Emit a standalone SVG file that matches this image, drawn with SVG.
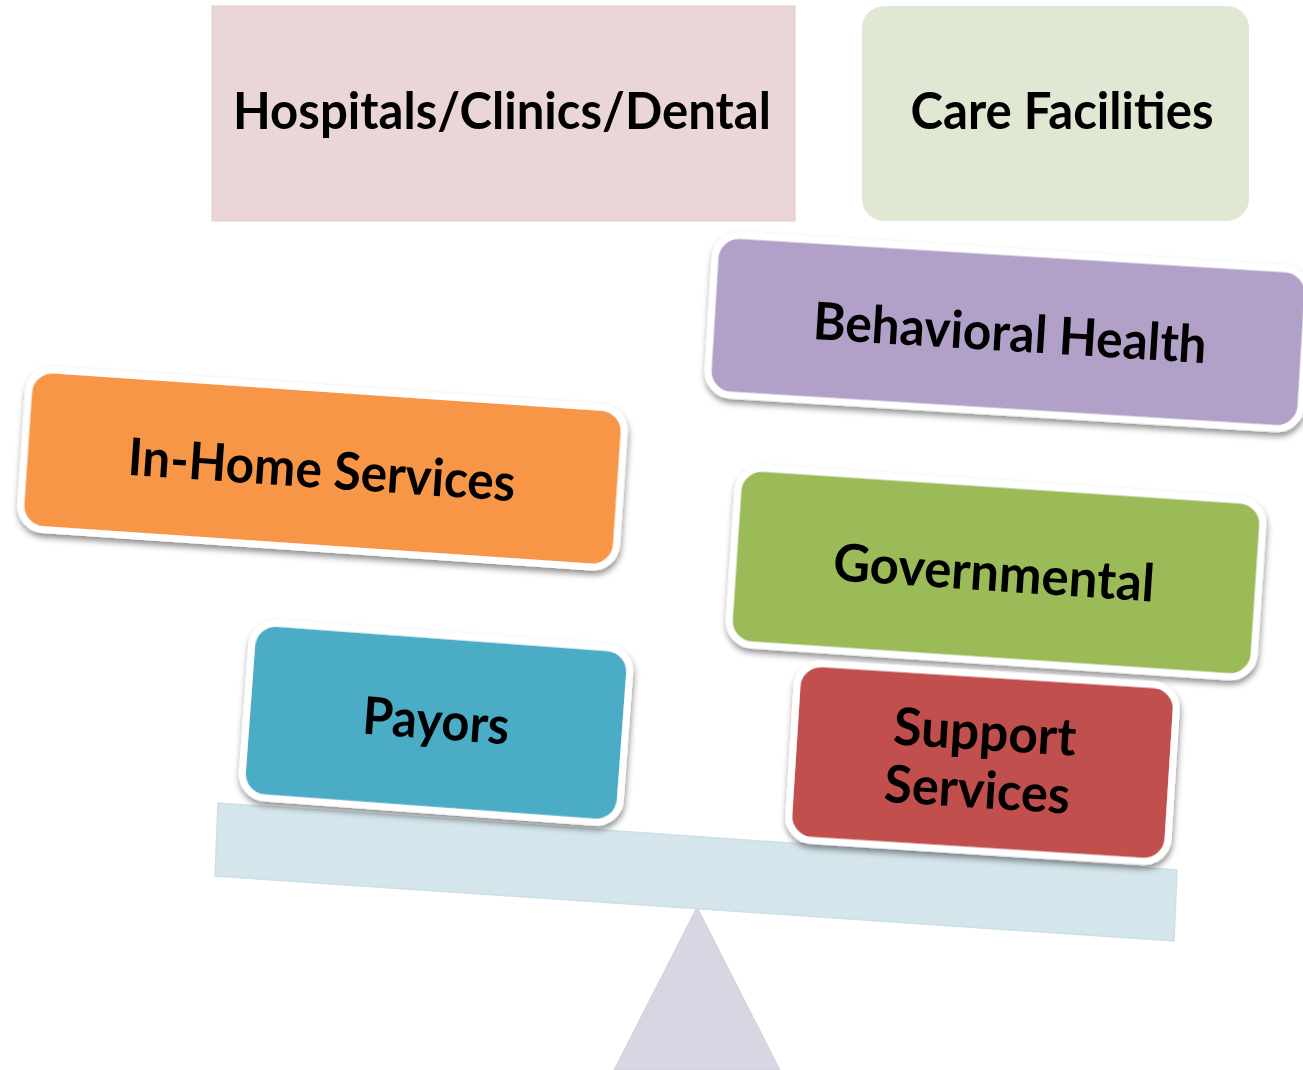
<svg xmlns="http://www.w3.org/2000/svg" width="1303" height="1070" viewBox="0 0 1303 1070">
<defs>
<filter id="sh" x="-10%" y="-20%" width="120%" height="150%">
<feDropShadow dx="1" dy="4" stdDeviation="3" flood-color="#000" flood-opacity="0.45"/>
</filter>
<style>
.t{font-family:Lato,"Open Sans","Liberation Sans",sans-serif;font-weight:bold;font-size:52px;fill:#000;text-anchor:middle}
.card{stroke:#fff;stroke-width:7;filter:url(#sh)}
</style>
</defs>
<rect width="1303" height="1070" fill="#fff"/>
<g id="fulcrum"><polygon points="697,907 614,1070 780,1070" fill="#d9d6e4" stroke="#d3d0e0" stroke-width="1"/></g>
<g id="beam"><polygon points="218,803 1177,870 1174,941 215,876" fill="#d4e5ec" stroke="#cde0e8" stroke-width="1.5"/></g>
<g id="hospitals">
<rect x="212" y="6" width="583" height="215" fill="#ead6d6" stroke="#e3cece" stroke-width="1"/>
<text class="t" x="502" y="129" textLength="538" lengthAdjust="spacingAndGlyphs">Hospitals/Clinics/Dental</text>
</g>
<g id="care">
<rect x="862" y="6" width="387" height="215" rx="22" fill="#e0e8d4"/>
<text class="t" x="1062" y="129" textLength="303" lengthAdjust="spacingAndGlyphs">Care Facilities</text>
</g>
<g id="behavioral" transform="rotate(3.5 1008 332)">
<rect class="card" x="711" y="252" width="594" height="160" rx="24" fill="#b1a0c7"/>
<text class="t" x="1010" y="351" textLength="394" lengthAdjust="spacingAndGlyphs">Behavioral Health</text>
</g>
<g id="inhome" transform="rotate(3.9 322.5 468.5)">
<rect class="card" x="24" y="388.5" width="597" height="160" rx="24" fill="#f79646"/>
<text class="t" x="322" y="488" textLength="388" lengthAdjust="spacingAndGlyphs">In-Home Services</text>
</g>
<g id="governmental" transform="rotate(3.8 996 572.5)">
<rect class="card" x="733" y="484" width="526" height="177" rx="24" fill="#9bbb59"/>
<text class="t" x="994" y="591" textLength="322" lengthAdjust="spacingAndGlyphs">Governmental</text>
</g>
<g id="payors" transform="rotate(4.2 436 722.7)">
<rect class="card" x="246.5" y="635.2" width="379" height="175" rx="24" fill="#4bacc6"/>
<text class="t" x="436" y="739" textLength="147" lengthAdjust="spacingAndGlyphs">Payors</text>
</g>
<g id="support" transform="rotate(3.6 982.5 762.5)">
<rect class="card" x="792.5" y="674" width="380" height="177" rx="24" fill="#c0504d"/>
<text class="t" x="983" y="750" textLength="183" lengthAdjust="spacingAndGlyphs">Support</text>
<text class="t" x="979" y="808" textLength="186" lengthAdjust="spacingAndGlyphs">Services</text>
</g>
<g id="connectors"/>
</svg>
